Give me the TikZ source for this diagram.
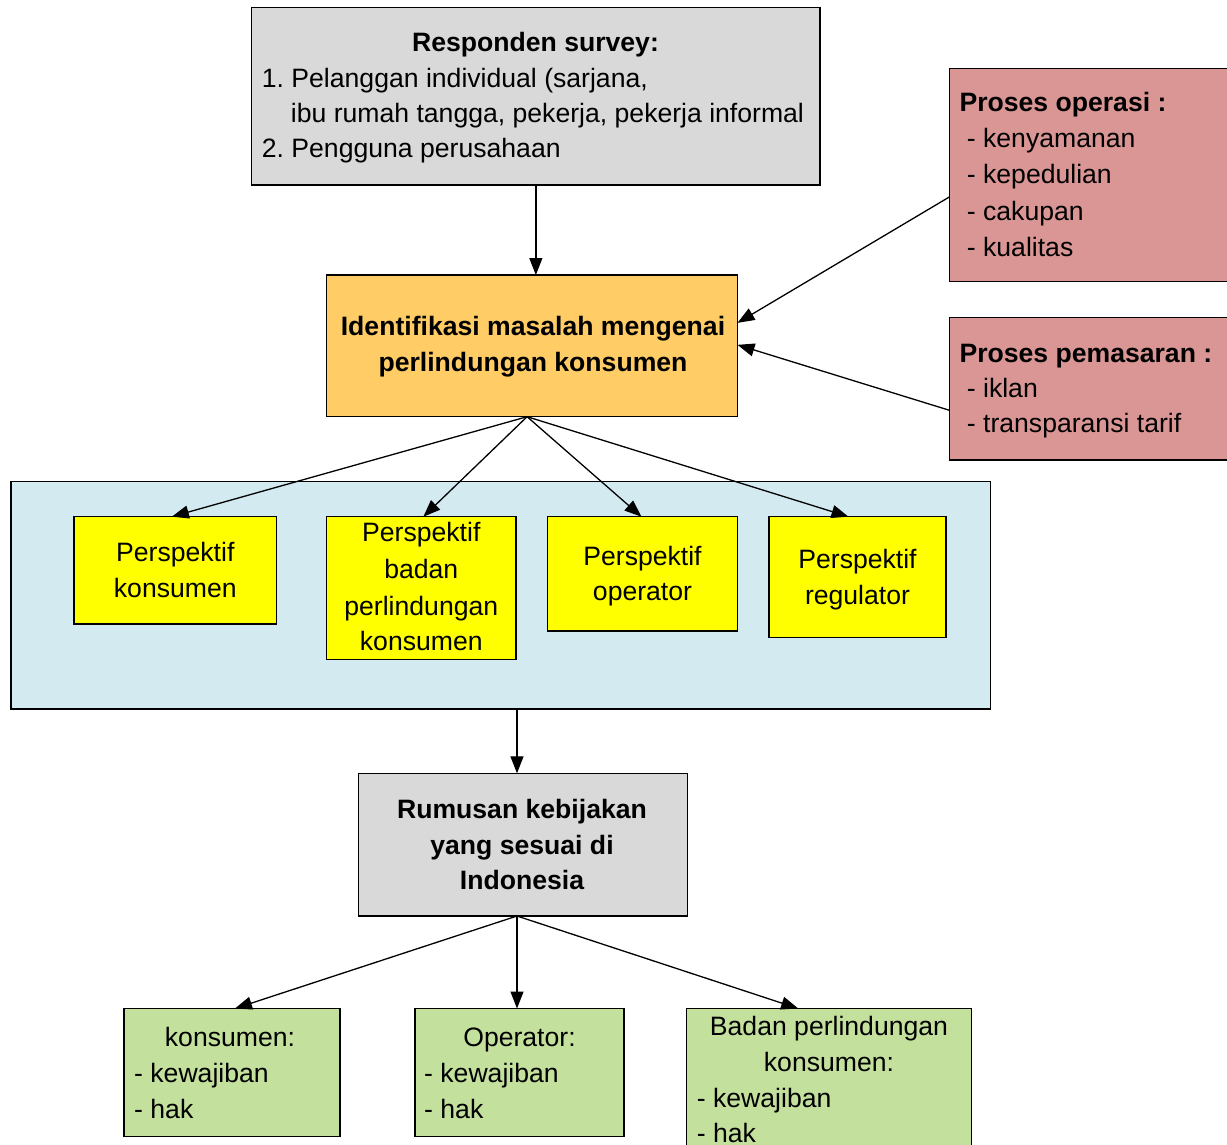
\documentclass[tikz,border=0pt]{standalone}
\usepackage{fontspec}
\setmainfont{Liberation Sans}
\usetikzlibrary{arrows.meta,calc}
\definecolor{cgray}{HTML}{D9D9D9}
\definecolor{corange}{HTML}{FFCC66}
\definecolor{cpink}{HTML}{D99694}
\definecolor{cblue}{HTML}{D2EAF0}
\definecolor{cyellow}{HTML}{FFFF00}
\definecolor{cgreen}{HTML}{C3E09D}
\newcommand{\mybox}[6]{\node[box,fill=#6,minimum width={#4-#2},minimum height={#5-#3}] (#1) at (#2,#3) {};}
\frenchspacing
\begin{document}
\begin{tikzpicture}[x=1pt,y=-1pt,
  box/.style={draw=black,line width=1.4pt,inner sep=0pt,outer sep=0pt,anchor=north west},
  txt/.style={inner sep=0pt,font=\fontsize{26.6}{36}\selectfont},
  bt/.style={inner sep=0pt,font=\fontsize{26.6}{36}\selectfont\bfseries},
  arr/.style={-{Triangle[length=17pt,width=13pt]},line width=1.3pt}]
\useasboundingbox[fill=white] (0,0) rectangle (1227,1145);

% boxes
\mybox{resp}{251.7}{7.5}{820}{185}{cgray}
\mybox{iden}{326.7}{275}{737.5}{416.7}{corange}
\mybox{ops}{949.3}{68.3}{1235}{281.7}{cpink}
\mybox{mkt}{949.3}{317.5}{1235}{460}{cpink}
\mybox{group}{10.8}{481.5}{990.4}{709}{cblue}
\mybox{pk}{74}{516.7}{276.7}{624}{cyellow}
\mybox{pb}{326.7}{516.7}{516}{659.3}{cyellow}
\mybox{po}{547.3}{516.7}{737.7}{631}{cyellow}
\mybox{pr}{769}{516.7}{946}{637.7}{cyellow}
\mybox{rum}{358.3}{773.3}{687.7}{916}{cgray}
\mybox{gk}{124}{1008.5}{340}{1136.5}{cgreen}
\mybox{go}{415}{1008.5}{624}{1136.5}{cgreen}
\mybox{gb}{686.7}{1008.5}{971.7}{1152}{cgreen}

% texts: top box
\node[bt,anchor=base] (t1) at (535.5,52) {Responden survey:};
\node[txt,anchor=base west] (t2) at (261.7,88) {1. Pelanggan individual (sarjana,};
\node[txt,anchor=base west] (t3) at (290.7,123) {ibu rumah tangga, pekerja, pekerja informal};
\node[txt,anchor=base west] (t4) at (261.7,158) {2. Pengguna perusahaan};
% orange
\node[bt,anchor=base] (i1) at (533,335) {Identifikasi masalah mengenai};
\node[bt,anchor=base] (i2) at (533,371.5) {perlindungan konsumen};
% pink 1
\node[bt,anchor=base west] (o1) at (959.3,112) {Proses operasi :};
\node[txt,anchor=base west] (o2) at (966.7,148) {- kenyamanan};
\node[txt,anchor=base west] (o3) at (966.7,184) {- kepedulian};
\node[txt,anchor=base west] (o4) at (966.7,220) {- cakupan};
\node[txt,anchor=base west] (o5) at (966.7,256) {- kualitas};
% pink 2
\node[bt,anchor=base west] (m1) at (959.3,362) {Proses pemasaran :};
\node[txt,anchor=base west] (m2) at (966.7,397) {- iklan};
\node[txt,anchor=base west] (m3) at (966.7,432) {- transparansi tarif};
% yellow
\node[txt,anchor=base] (k1) at (175.3,561.7) {Perspektif};
\node[txt,anchor=base] (k2) at (175.3,597.3) {konsumen};
\node[txt,anchor=base] (b1) at (421.3,541.7) {Perspektif};
\node[txt,anchor=base] (b2) at (421.3,578.3) {badan};
\node[txt,anchor=base] (b3) at (421.3,615) {perlindungan};
\node[txt,anchor=base] (b4) at (421.3,650) {konsumen};
\node[txt,anchor=base] (p1) at (642.5,565) {Perspektif};
\node[txt,anchor=base] (p2) at (642.5,600) {operator};
\node[txt,anchor=base] (r1) at (857.5,568.3) {Perspektif};
\node[txt,anchor=base] (r2) at (857.5,604) {regulator};
% gray 2
\node[bt,anchor=base] (u1) at (522,818.3) {Rumusan kebijakan};
\node[bt,anchor=base] (u2) at (522,854) {yang sesuai di};
\node[bt,anchor=base] (u3) at (522,889.3) {Indonesia};
% green
\node[txt,anchor=base] (g1) at (230,1046) {konsumen:};
\node[txt,anchor=base west] (g2) at (134,1082) {- kewajiban};
\node[txt,anchor=base west] (g3) at (134,1118) {- hak};
\node[txt,anchor=base] (h1) at (519.5,1046) {Operator:};
\node[txt,anchor=base west] (h2) at (424,1082) {- kewajiban};
\node[txt,anchor=base west] (h3) at (424,1118) {- hak};
\node[txt,anchor=base] (j1) at (829,1035) {Badan perlindungan};
\node[txt,anchor=base] (j2) at (829,1071) {konsumen:};
\node[txt,anchor=base west] (j3) at (696.7,1107) {- kewajiban};
\node[txt,anchor=base west] (j4) at (696.7,1142) {- hak};

% connectors
\draw[arr] (resp.south) -- (resp.south |- iden.north);
\draw[arr] ([yshift=-22pt]ops.west) -- ([yshift=23pt]iden.east);
\draw[arr] ([yshift=-21.5pt]mkt.west) -- ([yshift=1pt]iden.east);
\coordinate (fo) at ([xshift=-5pt]iden.south);
\draw[arr] (fo) -- ([xshift=-3.5pt]pk.north);
\draw[arr] (fo) -- ([xshift=2pt]pb.north);
\draw[arr] (fo) -- ([xshift=-1pt]po.north);
\draw[arr] (fo) -- ([xshift=-9pt]pr.north);
\coordinate (ri) at ([xshift=-6pt]rum.north);
\draw[arr] (group.south -| ri) -- (ri);
\coordinate (ro) at ([xshift=-6pt]rum.south);
\draw[arr] (ro) -- ([xshift=3pt]gk.north);
\draw[arr] (ro) -- (ro |- go.north);
\draw[arr] (ro) -- ([xshift=-31pt]gb.north);
\end{tikzpicture}
\end{document}
